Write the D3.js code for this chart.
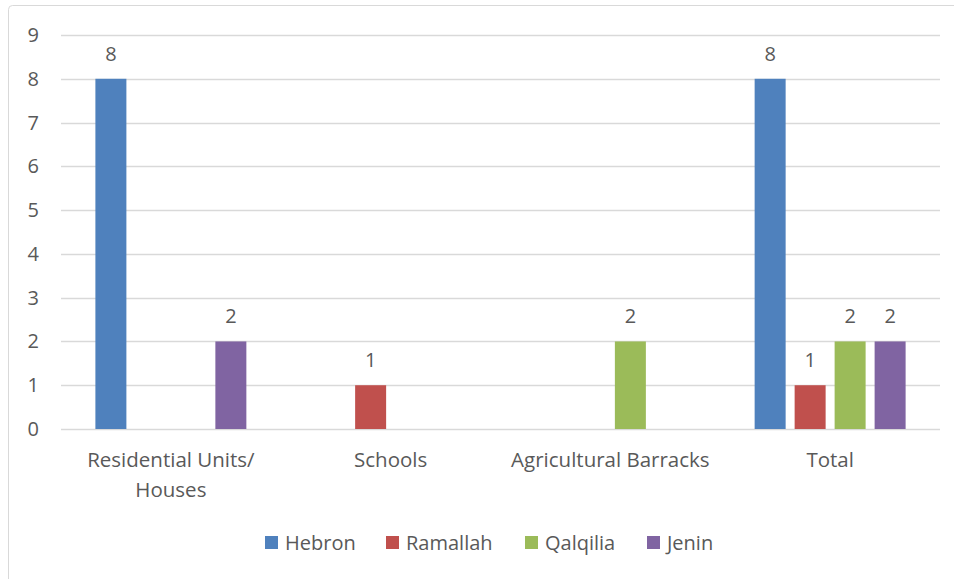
<!DOCTYPE html>
<html>
<head>
<meta charset="utf-8">
<script src="https://cdn.jsdelivr.net/npm/d3@7"></script>
<style>
  body { margin: 0; background: #fff; }
  text { font-family: "Open Sans", sans-serif; fill: #595959; }
</style>
</head>
<body>
<svg id="chart" width="954" height="579"></svg>
<script>
const categories = [["Residential Units/", "Houses"], ["Schools"], ["Agricultural Barracks"], ["Total"]];
const seriesNames = ["Hebron", "Ramallah", "Qalqilia", "Jenin"];
const hebron = [8, 0, 0, 8];
const ramallah = [0, 1, 0, 1];
const qalqilia = [0, 0, 2, 2];
const jenin = [2, 0, 0, 2];
const yTicks = [0, 1, 2, 3, 4, 5, 6, 7, 8, 9];
const colors = ["#4f81bd", "#c0504d", "#9bbb59", "#8064a2"];

const seriesValues = [hebron, ramallah, qalqilia, jenin];

const width = 954, height = 579;
const margin = { top: 35, right: 14, bottom: 150, left: 61 };

const svg = d3.select("#chart");

// outer frame (only top/left visible in the reference)
svg.append("rect")
    .attr("x", 8.5).attr("y", 5.5)
    .attr("width", 1000).attr("height", 1000)
    .attr("rx", 4)
    .attr("fill", "none")
    .attr("stroke", "#d9d9d9")
    .attr("stroke-width", 1);

const x0 = d3.scaleBand()
    .domain(d3.range(categories.length))
    .range([margin.left, width - margin.right])
    .paddingInner(0)
    .paddingOuter(0);

const x1 = d3.scaleBand()
    .domain(d3.range(seriesNames.length))
    .range([0, x0.bandwidth()])
    .paddingInner(0.225)
    .paddingOuter(0.86);

const y = d3.scaleLinear()
    .domain([0, 9])
    .range([height - margin.bottom, margin.top]);

// gridlines
svg.append("g")
    .selectAll("line")
    .data(yTicks)
    .join("line")
    .attr("x1", margin.left)
    .attr("x2", width - margin.right)
    .attr("y1", d => Math.round(y(d)) + 0.5)
    .attr("y2", d => Math.round(y(d)) + 0.5)
    .attr("stroke", "#d9d9d9")
    .attr("stroke-width", 1.5);

// y labels
svg.append("g")
    .selectAll("text")
    .data(yTicks)
    .join("text")
    .attr("x", 39)
    .attr("y", d => y(d))
    .attr("dy", "0.35em")
    .attr("text-anchor", "end")
    .attr("font-size", 20)
    .text(d => d);

// bars
const groups = svg.append("g")
    .selectAll("g")
    .data(categories)
    .join("g")
    .attr("transform", (d, i) => `translate(${x0(i)},0)`);

groups.each(function (c, ci) {
    const g = d3.select(this);
    const vals = seriesValues.map((s, si) => ({ si: si, v: s[ci] })).filter(d => d.v > 0);
    g.selectAll("rect")
        .data(vals)
        .join("rect")
        .attr("x", d => x1(d.si))
        .attr("width", x1.bandwidth())
        .attr("y", d => y(d.v))
        .attr("height", d => y(0) - y(d.v))
        .attr("fill", d => colors[d.si]);
    g.selectAll("text.lbl")
        .data(vals)
        .join("text")
        .attr("class", "lbl")
        .attr("x", d => x1(d.si) + x1.bandwidth() / 2)
        .attr("y", d => y(d.v) - 25)
        .attr("dy", "0.35em")
        .attr("text-anchor", "middle")
        .attr("font-size", 20)
        .text(d => d.v);
});

// category labels
const cat = svg.append("g")
    .selectAll("text")
    .data(categories)
    .join("text")
    .attr("x", (d, i) => x0(i) + x0.bandwidth() / 2)
    .attr("y", y(0) + 31)
    .attr("dy", "0.35em")
    .attr("text-anchor", "middle")
    .attr("font-size", 20.5);

cat.selectAll("tspan")
    .data(d => d)
    .join("tspan")
    .attr("x", function () { return d3.select(this.parentNode).attr("x"); })
    .attr("dy", (d, i) => i === 0 ? "0.35em" : 30)
    .text(d => d);

// legend
const legendX = [265, 386, 525, 647];
const legend = svg.append("g")
    .selectAll("g")
    .data(seriesNames)
    .join("g")
    .attr("transform", (d, i) => `translate(${legendX[i]},536)`);

legend.append("rect")
    .attr("width", 13).attr("height", 13)
    .attr("fill", (d, i) => colors[i]);

legend.append("text")
    .attr("x", 20)
    .attr("y", 7)
    .attr("dy", "0.35em")
    .attr("font-size", 20)
    .text(d => d);
</script>
</body>
</html>
